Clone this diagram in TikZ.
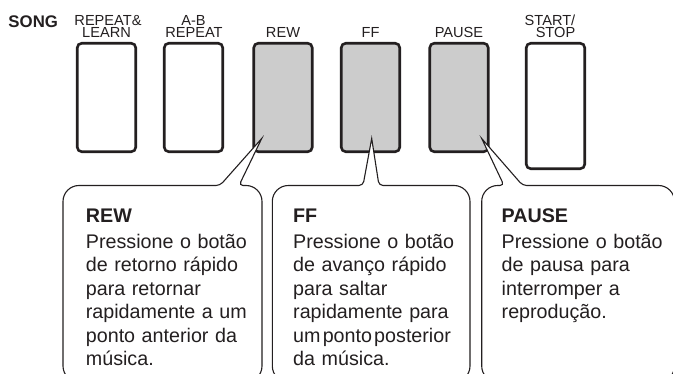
\documentclass[tikz,border=0pt]{standalone}
\usepackage{fontspec}
\setmainfont{Liberation Sans}
\definecolor{keygray}{RGB}{204,204,204}
\definecolor{ink}{RGB}{35,31,32}
\tikzset{
  btn/.style={draw=ink, line width=2.6pt, rounded corners=4.5pt, minimum width=58.5pt, minimum height=108.5pt, inner sep=0pt},
  btnlabel/.style={anchor=base, inner sep=0pt, text=ink, font=\fontsize{14.6}{16}\selectfont},
  callout/.style={draw=ink, line width=1.1pt, fill=white},
  calltext/.style={anchor=base west, inner sep=0pt, text width=185pt, align=left, text=ink, font=\fontsize{19.7}{23.5}\selectfont},
}
\begin{document}
\begin{tikzpicture}[x=1pt, y=-1pt]
\useasboundingbox (0,0) rectangle (673,374);
\clip (0,0) rectangle (673,374);
% title
\node[anchor=base west, inner sep=0pt, text=ink, font=\fontsize{16.8}{18}\selectfont\bfseries] (song) at (8.3,27.6) {SONG};
% buttons
\node[btn, fill=white] (rl) at (106.5,97.5) {};
\node[btn, fill=white] (ab) at (193.5,97.5) {};
\node[btn, fill=keygray] (rew) at (283,97.5) {};
\node[btn, fill=keygray] (ff) at (370.5,97.5) {};
\node[btn, fill=keygray] (pause) at (459,97.5) {};
\node[btn, fill=white, minimum height=125.5pt] (ss) at (555.5,106) {};
% labels
\node[btnlabel] (lrl1) at (108,25.6) {REPEAT\&};
\node[btnlabel] (lrl2) at (106.5,38) {LEARN};
\node[btnlabel] (lab1) at (193.5,25.6) {A-B};
\node[btnlabel] (lab2) at (194,38) {REPEAT};
\node[btnlabel] (lrew) at (283,38) {REW};
\node[btnlabel] (lff) at (370.5,38) {FF};
\node[btnlabel] (lpause) at (459,38) {PAUSE};
\node[btnlabel] (lss1) at (550,25.6) {START/};
\node[btnlabel] (lss2) at (555.5,38) {STOP};
% pointer tips
\coordinate (rewtip) at (261.7,138.5);
\coordinate (fftip) at (371.7,138.5);
\coordinate (pausetip) at (481.7,138.5);
% callouts
\draw[callout] (63,360) [rounded corners=16pt] -- (63,185.5) [rounded corners=4pt] -- (220,185.5) [sharp corners] -- (rewtip) [rounded corners=4pt] -- (239,185.5) [rounded corners=16pt] -- (262,185.5) -- (262,382) -- (63,382) -- (63,360);
\draw[callout] (272.3,360) [rounded corners=16pt] -- (272.3,185.5) [rounded corners=4pt] -- (363,185.5) [sharp corners] -- (fftip) [rounded corners=4pt] -- (379,185.5) [rounded corners=16pt] -- (470,185.5) -- (470,382) -- (272.3,382) -- (272.3,360);
\draw[callout] (481.7,360) [rounded corners=16pt] -- (481.7,185.5) [rounded corners=4pt] -- (504,185.5) [sharp corners] -- (pausetip) [rounded corners=4pt] -- (522.7,185.5) [rounded corners=16pt] -- (674.5,185.5) -- (674.5,382) -- (481.7,382) -- (481.7,360);
% callout texts
\node[calltext] (trew) at (85.7,222.3) {\textbf{REW}\\[2.5pt]Pressione o botão\\de retorno rápido\\para retornar\\rapidamente a um\\ponto anterior da\\música.};
\node[calltext] (tff) at (293,222.3) {\textbf{FF}\\[2.5pt]Pressione o botão\\de avanço rápido\\para saltar\\rapidamente para\\{\spaceskip=2.2pt plus 1pt um ponto posterior}\\da música.};
\node[calltext] (tpause) at (501.5,222.3) {\textbf{PAUSE}\\[2.5pt]Pressione o botão\\de pausa para\\interromper a\\reprodução.};
\end{tikzpicture}
\end{document}
